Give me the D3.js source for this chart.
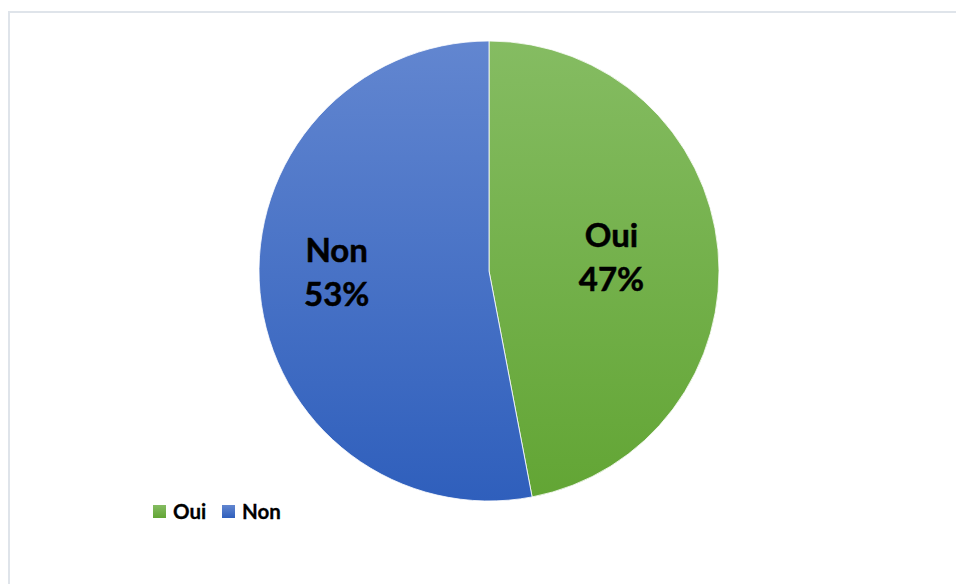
<!DOCTYPE html>
<html><head><meta charset="utf-8">
<script src="https://cdn.jsdelivr.net/npm/d3@7"></script>
<style>html,body{margin:0;padding:0;background:#fff;overflow:hidden}</style>
</head><body>
<svg id="c" width="956" height="584"></svg>
<script>
const categories = ["Oui", "Non"];
const values = [47, 53];
const colorsTop = ["#85bc62", "#6286d0"];
const colorsBottom = ["#62a534", "#2f5fbc"];

const svg = d3.select("#c");
svg.append("rect").attr("x", 9).attr("y", 12).attr("width", 960).attr("height", 590)
  .attr("fill", "#fff").attr("stroke", "#dfe4ea").attr("stroke-width", 2);

const cx = 489, cy = 271, R = 230;
const defs = svg.append("defs");
categories.forEach((c, i) => {
  const g = defs.append("linearGradient").attr("id", "g" + i)
    .attr("gradientUnits", "userSpaceOnUse")
    .attr("x1", 0).attr("y1", -R).attr("x2", 0).attr("y2", R);
  g.append("stop").attr("offset", 0).attr("stop-color", colorsTop[i]);
  g.append("stop").attr("offset", 1).attr("stop-color", colorsBottom[i]);
});

const pie = d3.pie().sort(null).value(d => d)(values);
const arc = d3.arc().innerRadius(0).outerRadius(R);
const gPie = svg.append("g").attr("transform", `translate(${cx},${cy})`);
gPie.selectAll("path").data(pie).enter().append("path")
  .attr("d", arc).attr("fill", (d, i) => `url(#g${i})`)
  .attr("stroke", "#fff").attr("stroke-width", 0.8);

const total = d3.sum(values);
const labelR = [123, 153];
const labelDy = [-2, -13];
const font = "Lato, 'Liberation Sans', sans-serif";
pie.forEach((d, i) => {
  const a = (d.startAngle + d.endAngle) / 2;
  const x = Math.sin(a) * labelR[i], y = -Math.cos(a) * labelR[i] + labelDy[i];
  const t = gPie.append("text").attr("text-anchor", "middle")
    .attr("font-family", font).attr("font-weight", 700)
    .attr("font-size", 33).attr("fill", "#000")
    .attr("stroke", "#000").attr("stroke-width", 0.5);
  t.append("tspan").attr("x", x).attr("y", y - 10).text(categories[i]);
  t.append("tspan").attr("x", x).attr("y", y + 34).text(Math.round(d.data / total * 100) + "%");
});

const legend = svg.append("g").attr("transform", "translate(153,505)");
const lx = [0, 69];
categories.forEach((c, i) => {
  const lg = defs.append("linearGradient").attr("id", "lg" + i).attr("x1", 0).attr("y1", 0).attr("x2", 0).attr("y2", 1);
  lg.append("stop").attr("offset", 0).attr("stop-color", colorsTop[i]);
  lg.append("stop").attr("offset", 1).attr("stop-color", colorsBottom[i]);
  const g = legend.append("g").attr("transform", `translate(${lx[i]},0)`);
  g.append("rect").attr("width", 13).attr("height", 13).attr("fill", `url(#lg${i})`);
  g.append("text").attr("x", 20).attr("y", 14).attr("font-family", font)
    .attr("font-weight", 700).attr("font-size", 20.5).attr("fill", "#000")
    .attr("stroke", "#000").attr("stroke-width", 0.3).text(c);
});
</script>
</body></html>
